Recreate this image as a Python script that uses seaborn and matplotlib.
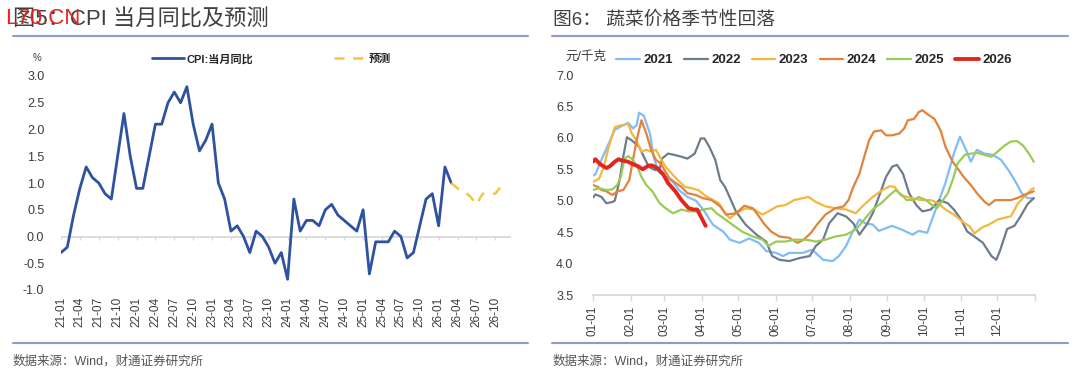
import numpy as np
import pandas as pd
import matplotlib
matplotlib.use("Agg")
import matplotlib.pyplot as plt
import seaborn as sns
from matplotlib.lines import Line2D

sns.set_theme(style="white")
plt.rcParams["font.family"] = ["Liberation Sans", "Noto Sans CJK SC", "DejaVu Sans"]
plt.rcParams["axes.unicode_minus"] = False

# ---------------- data: CPI (left) ----------------
cpi_years = [2021, 2022, 2023, 2024, 2025, 2026]
cpi_actual = [
    -0.3, -0.2, 0.4, 0.9, 1.3, 1.1, 1.0, 0.8, 0.7, 1.5, 2.3, 1.5,
    0.9, 0.9, 1.5, 2.1, 2.1, 2.5, 2.7, 2.5, 2.8, 2.1, 1.6, 1.8,
    2.1, 1.0, 0.7, 0.1, 0.2, 0.0, -0.3, 0.1, 0.0, -0.2, -0.5, -0.3,
    -0.8, 0.7, 0.1, 0.3, 0.3, 0.2, 0.5, 0.6, 0.4, 0.3, 0.2, 0.1,
    0.5, -0.7, -0.1, -0.1, -0.1, 0.1, 0.0, -0.4, -0.3, 0.2, 0.7, 0.8,
    0.2, 1.3, 1.0,
]
cpi_forecast = [1.0, 0.9, 0.85, 0.75, 0.6, 0.8, 0.8, 0.8, 0.95]
cpi_labels = [f"{y % 100:02d}-{m:02d}" for y in cpi_years for m in range(1, 13)]

# ---------------- data: vegetable prices (right) ----------------
d21 = [0, 2, 7, 13, 18, 25, 29, 33, 36, 38, 42, 47, 50, 54, 60, 66, 71, 78, 85, 91,
       99, 108, 113, 121, 129, 137, 143, 151, 157, 162, 173, 181, 190, 198, 203, 209, 214, 220, 225, 231,
       236, 247, 255, 264, 269, 276, 283, 291, 298, 303, 308, 312, 317, 323, 330, 337, 344, 349, 354, 359, 364]
v21 = [5.40, 5.42, 5.65, 5.91, 6.13, 6.20, 6.24, 6.15, 6.20, 6.40, 6.35, 6.07, 5.70, 5.46, 5.38, 5.30, 5.17, 5.06, 5.00, 4.86,
       4.62, 4.50, 4.38, 4.33, 4.40, 4.33, 4.20, 4.17, 4.12, 4.17, 4.17, 4.22, 4.06, 4.04, 4.12, 4.28, 4.49, 4.70, 4.64, 4.62,
       4.52, 4.60, 4.54, 4.46, 4.52, 4.49, 4.86, 5.28, 5.75, 6.02, 5.81, 5.62, 5.81, 5.75, 5.73, 5.65, 5.46, 5.30, 5.12, 5.04, 5.04]

d22 = [0, 2, 7, 11, 16, 18, 22, 25, 28, 32, 38, 42, 46, 51, 55, 57, 62, 67, 73, 78,
       84, 89, 92, 96, 101, 105, 109, 113, 118, 126, 135, 143, 148, 154, 162, 171, 179, 184, 190, 195,
       202, 209, 215, 220, 226, 231, 236, 242, 247, 251, 256, 261, 267, 272, 279, 286, 293, 298, 304, 309,
       315, 322, 329, 333, 336, 342, 348, 353, 359, 364]
v22 = [5.05, 5.10, 5.06, 4.96, 4.98, 5.00, 5.33, 5.70, 6.01, 5.96, 5.86, 5.70, 5.54, 5.49, 5.49, 5.67, 5.75, 5.73, 5.70, 5.67,
       5.75, 5.99, 5.99, 5.86, 5.65, 5.33, 5.22, 5.05, 4.83, 4.62, 4.46, 4.35, 4.12, 4.06, 4.04, 4.09, 4.12, 4.28, 4.38, 4.64,
       4.80, 4.75, 4.64, 4.46, 4.62, 4.80, 5.06, 5.38, 5.54, 5.57, 5.43, 5.12, 4.93, 4.83, 4.86, 5.01, 4.96, 4.86, 4.70, 4.51,
       4.43, 4.33, 4.12, 4.06, 4.20, 4.55, 4.60, 4.75, 4.95, 5.04]

d23 = [0, 5, 9, 13, 18, 23, 29, 32, 36, 40, 44, 48, 52, 56, 60, 66, 70, 76, 81, 87,
       92, 99, 104, 109, 113, 118, 126, 133, 140, 145, 152, 159, 166, 173, 178, 184, 192, 200, 209, 217,
       223, 231, 239, 245, 249, 254, 263, 271, 279, 285, 291, 298, 305, 311, 315, 321, 327, 334, 340, 345,
       351, 356, 362, 364]
v23 = [5.30, 5.35, 5.54, 5.86, 6.17, 6.20, 6.22, 6.07, 5.96, 5.78, 5.81, 5.78, 5.81, 5.67, 5.54, 5.41, 5.33, 5.22, 5.20, 5.17,
       5.09, 5.01, 4.96, 4.80, 4.72, 4.80, 4.88, 4.86, 4.78, 4.83, 4.91, 4.93, 5.01, 5.04, 5.06, 4.98, 4.91, 4.88, 4.86, 4.80,
       4.92, 5.06, 5.17, 5.23, 5.22, 5.09, 5.04, 5.01, 5.01, 4.96, 4.86, 4.78, 4.67, 4.59, 4.48, 4.57, 4.62, 4.70, 4.73, 4.75,
       4.96, 5.06, 5.18, 5.20]

d24 = [0, 4, 7, 11, 16, 20, 25, 30, 33, 36, 40, 44, 48, 52, 56, 59, 63, 67, 73, 78,
       85, 91, 98, 105, 110, 118, 125, 132, 136, 141, 147, 154, 162, 169, 174, 180, 185, 192, 200, 207,
       211, 215, 220, 224, 228, 232, 238, 242, 247, 253, 257, 260, 265, 269, 272, 276, 282, 287, 291, 297,
       302, 306, 312, 317, 323, 327, 332, 339, 345, 350, 356, 364]
v24 = [5.25, 5.22, 5.17, 5.15, 5.09, 5.15, 5.17, 5.33, 5.65, 5.96, 6.28, 6.07, 5.81, 5.65, 5.59, 5.49, 5.36, 5.30, 5.22, 5.12,
       5.09, 5.04, 5.01, 4.91, 4.78, 4.80, 4.92, 4.88, 4.78, 4.64, 4.51, 4.43, 4.41, 4.33, 4.38, 4.49, 4.62, 4.78, 4.88, 4.91,
       5.01, 5.22, 5.43, 5.70, 5.96, 6.10, 6.12, 6.04, 6.04, 6.07, 6.15, 6.28, 6.30, 6.41, 6.44, 6.38, 6.30, 6.12, 5.86, 5.62,
       5.49, 5.38, 5.25, 5.12, 4.99, 4.93, 5.01, 5.01, 5.01, 5.04, 5.09, 5.15]

d25 = [0, 5, 11, 16, 20, 23, 26, 29, 33, 37, 40, 44, 49, 55, 60, 66, 73, 79, 86, 91,
       98, 102, 108, 115, 123, 132, 140, 145, 151, 159, 167, 176, 184, 192, 200, 209, 217, 224, 231, 238,
       245, 250, 255, 259, 265, 269, 275, 280, 284, 289, 293, 297, 301, 307, 312, 318, 323, 329, 334, 340,
       345, 350, 355, 360, 364]
v25 = [5.17, 5.20, 5.17, 5.18, 5.25, 5.38, 5.67, 5.71, 5.65, 5.52, 5.38, 5.25, 5.15, 4.96, 4.88, 4.80, 4.86, 4.83, 4.83, 4.86,
       4.88, 4.80, 4.72, 4.62, 4.51, 4.43, 4.38, 4.28, 4.35, 4.35, 4.38, 4.38, 4.35, 4.38, 4.43, 4.46, 4.54, 4.70, 4.86, 4.96,
       5.09, 5.17, 5.09, 5.01, 5.01, 5.06, 5.01, 4.93, 4.88, 5.01, 5.12, 5.33, 5.59, 5.73, 5.75, 5.76, 5.73, 5.70, 5.78, 5.88,
       5.94, 5.95, 5.88, 5.75, 5.62]

d26 = [0, 2, 6, 11, 14, 18, 21, 24, 29, 33, 37, 41, 46, 49, 53, 58, 62, 68, 73, 79, 83, 86, 89, 93]
v26 = [5.62, 5.66, 5.58, 5.52, 5.55, 5.62, 5.66, 5.64, 5.62, 5.58, 5.55, 5.50, 5.56, 5.56, 5.52, 5.42, 5.28, 5.15, 5.01, 4.88,
       4.86, 4.86, 4.75, 4.60]

veg_years = ["2021", "2022", "2023", "2024", "2025", "2026"]
veg_days = [d21, d22, d23, d24, d25, d26]
veg_vals = [v21, v22, v23, v24, v25, v26]
veg_colors = ["#80bdf7", "#6e7c8e", "#f3b73f", "#e4813a", "#9acb55", "#e2261f"]
veg_tick_days = [0, 31, 59, 90, 120, 151, 181, 212, 243, 273, 304, 334]
veg_tick_labels = ["01-01", "02-01", "03-01", "04-01", "05-01", "06-01",
                   "07-01", "08-01", "09-01", "10-01", "11-01", "12-01"]

W, H = 1080, 376
fig = plt.figure(figsize=(W / 100, H / 100), dpi=100)
fig.patch.set_facecolor("white")

def fx(px):
    return px / W

def fy(py):
    return 1 - py / H

TXT = "#3c3c3c"
RULE = "#8c9bcd"

# ---------------- left chart ----------------
ax1 = fig.add_axes([fx(61), fy(290), fx(450), (290 - 76) / H])
xa = np.arange(len(cpi_actual))
sns.lineplot(x=xa, y=cpi_actual, ax=ax1, color="#2f52a0", linewidth=2.0)
f0 = len(cpi_actual) - 1
xf = np.arange(f0, f0 + len(cpi_forecast))
sns.lineplot(x=xf, y=cpi_forecast, ax=ax1, color="#f4c541", linewidth=1.8)
ax1.lines[-1].set_dashes([4, 3.5])
ax1.set_xlim(0, 71.5)
ax1.set_ylim(-1.0, 3.0)
yt = np.arange(-1.0, 3.01, 0.5)
ax1.set_yticks(yt)
ax1.set_yticklabels([f"{v:.1f}" for v in yt])
xt = np.arange(0, len(cpi_labels), 3)
ax1.set_xticks(xt)
ax1.set_xticklabels([cpi_labels[i] for i in xt], rotation=90)
for s in ax1.spines.values():
    s.set_visible(False)
ax1.axhline(0, color="#d9d9d9", linewidth=1.3, zorder=0)
ax1.vlines(xt, -0.06, 0, color="#d9d9d9", linewidth=1.0, zorder=0)
ax1.tick_params(axis="both", length=0, labelsize=8.5, colors=TXT)
ax1.tick_params(axis="y", pad=12, labelsize=9)
ax1.tick_params(axis="x", pad=5)
ax1.set_xlabel("")
ax1.set_ylabel("")
ax1.grid(False)
h1 = [Line2D([], [], color="#2f52a0", lw=2.0),
      Line2D([], [], color="#f4c541", lw=1.8, dashes=[4, 3.5])]
ax1.legend(h1, ["CPI:当月同比", "预测"], loc="center", bbox_to_anchor=(0.468, 1.079),
           ncol=2, frameon=False, handlelength=2.9, handletextpad=0.2, columnspacing=7.3,
           prop={"size": 8, "weight": "bold"})
fig.text(fx(33), fy(58), "%", fontsize=7, color=TXT, va="center")

# ---------------- right chart ----------------
ax2 = fig.add_axes([fx(593), fy(295), fx(442), (295 - 75) / H])
rows = []
for yr, dd, vv in zip(veg_years, veg_days, veg_vals):
    rows.append(pd.DataFrame({"day": dd, "price": vv, "year": yr}))
veg = pd.concat(rows, ignore_index=True)
for yr, col in zip(veg_years, veg_colors):
    sub = veg[veg["year"] == yr]
    sns.lineplot(data=sub, x="day", y="price", ax=ax2, color=col,
                 linewidth=2.8 if yr == "2026" else 1.6, label=yr)
ax2.set_xlim(0, 365)
ax2.set_ylim(3.5, 7.0)
yt2 = np.arange(3.5, 7.01, 0.5)
ax2.set_yticks(yt2)
ax2.set_yticklabels([f"{v:.1f}" for v in yt2])
ax2.set_xticks(veg_tick_days + [365])
ax2.set_xticklabels(veg_tick_labels + [""], rotation=90)
for k, s in ax2.spines.items():
    s.set_visible(k == "bottom")
ax2.spines["bottom"].set_color("#d9d9d9")
ax2.spines["bottom"].set_linewidth(1.3)
ax2.tick_params(axis="x", length=4, width=1.0, color="#d9d9d9", bottom=True,
                labelsize=8.5, colors=TXT, pad=4)
ax2.tick_params(axis="x", colors="#d9d9d9", labelcolor=TXT)
ax2.tick_params(axis="y", length=0, labelsize=9, colors=TXT, pad=14)
ax2.set_xlabel("")
ax2.set_ylabel("")
ax2.grid(False)
ax2.legend(loc="center", bbox_to_anchor=(0.5, 1.068), ncol=6, frameon=False,
           handlelength=1.8, handletextpad=0.25, columnspacing=0.85,
           prop={"size": 9.5, "weight": "bold"})
fig.text(fx(565), fy(57), "元/千克", fontsize=9, color=TXT, va="center")

# ---------------- titles, rules, footers ----------------
fig.text(fx(13), fy(20), "图5：CPI 当月同比及预测", fontsize=16, color="#404040", va="center")
fig.text(fx(553), fy(20), "图6： 蔬菜价格季节性回落", fontsize=13.5, color="#404040", va="center")
fig.text(fx(5), fy(19), "L70.CN", fontsize=16, color="#e8231c", va="center", zorder=10)
for (a, b) in [(13, 528), (552, 1068)]:
    fig.add_artist(Line2D([fx(a), fx(b)], [fy(36), fy(36)], transform=fig.transFigure,
                          color=RULE, linewidth=1.5))
    fig.add_artist(Line2D([fx(a), fx(b)], [fy(343), fy(343)], transform=fig.transFigure,
                          color=RULE, linewidth=1.5))
fig.text(fx(13), fy(361), "数据来源：Wind，财通证券研究所", fontsize=9, color="#555555", va="center")
fig.text(fx(553), fy(361), "数据来源：Wind，财通证券研究所", fontsize=9, color="#555555", va="center")

fig.savefig("out.png", dpi=100, facecolor="white")
